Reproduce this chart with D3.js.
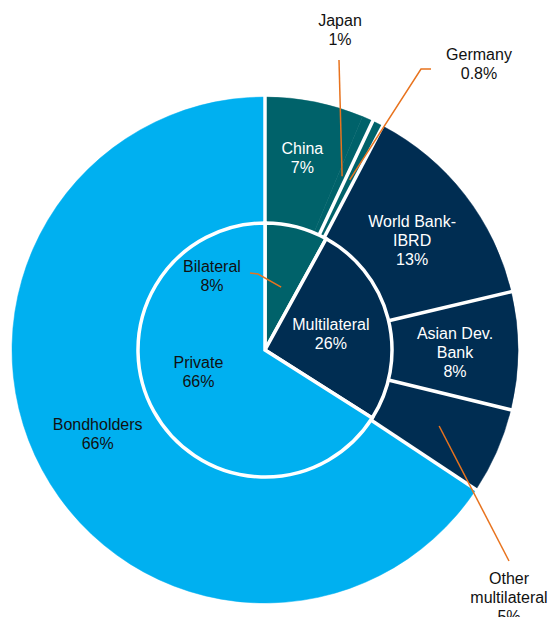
<!DOCTYPE html>
<html><head><meta charset="utf-8">
<script src="https://cdn.jsdelivr.net/npm/d3@7"></script>
<style>body{margin:0;background:#fff}svg{display:block}text{font-family:"Liberation Sans",Arial,sans-serif;font-size:16px}</style>
</head><body>
<svg id="c" width="549" height="617"></svg>
<script>
// Inner ring (creditor type)
const innerNames = ["Bilateral", "Multilateral", "Private"];
const innerValues = [8, 26, 66];
const innerLabels = ["8%", "26%", "66%"];
// Outer ring (creditor) - slice sizes, labels as printed
const outerNames = ["China", "Japan", "Germany", "World Bank-\nIBRD", "Asian Dev.\nBank", "Other\nmultilateral", "Bondholders"];
const outerValues = [6.3, 0.7, 0.7, 13.6, 7.5, 5.5, 65.7];
const outerLabels = ["7%", "1%", "0.8%", "13%", "8%", "5%", "66%"];
const outerGroup = ["Bilateral", "Bilateral", "Bilateral", "Multilateral", "Multilateral", "Multilateral", "Private"];

const colors = { Bilateral: "#00626A", Multilateral: "#002D52", Private: "#00B0F0" };
const textColors = { Bilateral: "#ffffff", Multilateral: "#ffffff", Private: "#111111" };

const cx = 265, cy = 350, rIn = 127, rOut = 253;
const svg = d3.select("#c");
const g = svg.append("g").attr("transform", `translate(${cx},${cy})`);
const pie = d3.pie().sort(null).value(d => d.v);

const outerData = pie(outerNames.map((n, i) => ({ n, v: outerValues[i], l: outerLabels[i], grp: outerGroup[i] })));
const innerData = pie(innerNames.map((n, i) => ({ n, v: innerValues[i], l: innerLabels[i], grp: n })));

const arcOut = d3.arc().innerRadius(rIn).outerRadius(rOut);
const arcIn = d3.arc().innerRadius(0).outerRadius(rIn);
const polar = (a, r) => [Math.sin(a) * r, -Math.cos(a) * r];

g.selectAll("path.o").data(outerData).join("path").attr("class", "o")
  .attr("d", arcOut).attr("fill", d => colors[d.data.grp])
  .attr("stroke", d => colors[d.data.grp]).attr("stroke-width", 0.5);
// white separators between outer slices (China and Japan share one block in the original)
outerData.forEach(d => {
  if (d.data.n === "Japan") return;
  g.append("line")
    .attr("x1", polar(d.startAngle, rIn)[0]).attr("y1", polar(d.startAngle, rIn)[1])
    .attr("x2", polar(d.startAngle, rOut + 2)[0]).attr("y2", polar(d.startAngle, rOut + 2)[1])
    .attr("stroke", "#fff").attr("stroke-width", 3.5);
});
g.selectAll("path.i").data(innerData).join("path").attr("class", "i")
  .attr("d", arcIn).attr("fill", d => colors[d.data.grp])
  .attr("stroke", "#fff").attr("stroke-width", 3.5);

const lh = 19;
function drawLabel(x, y, lines, color) {
  const t = g.append("text").attr("text-anchor", "middle").attr("fill", color);
  const n = lines.length;
  lines.forEach((s, k) => {
    t.append("tspan").attr("x", x).attr("y", y + (k - (n - 1) / 2) * lh + 6).text(s);
  });
}
const midR = (rIn + rOut) / 2;

// label layout adjustments (relative to centre)
const nudge = { "China": [0, -6], "World Bank-\nIBRD": [-3, 6], "Asian Dev.\nBank": [0, 1], "Bondholders": [0, -6] };
const external = {
  "Japan": { pos: [75, -321], path: [[74, -290]] },
  "Germany": { pos: [214, -287], path: [[166, -281], [156, -281]] },
  "Other\nmultilateral": { pos: [244, 247], path: [[244, 211]] }
};
const orange = "#E8731E";

outerData.forEach(d => {
  const a = (d.startAngle + d.endAngle) / 2;
  const lines = d.data.n.split("\n").concat([d.data.l]);
  const ext = external[d.data.n];
  if (ext) {
    const anchor = polar(a, 190);
    const pts = ext.path.concat([anchor]);
    g.append("path").attr("d", d3.line()(pts)).attr("fill", "none").attr("stroke", orange).attr("stroke-width", 1.5);
    drawLabel(ext.pos[0], ext.pos[1], lines, "#111");
  } else {
    const [x, y] = polar(a, midR);
    const nd = nudge[d.data.n] || [0, 0];
    drawLabel(x + nd[0], y + nd[1], lines, textColors[d.data.grp]);
  }
});

innerData.forEach(d => {
  const a = (d.startAngle + d.endAngle) / 2;
  const lines = [d.data.n, d.data.l];
  if (d.data.n === "Bilateral") {
    const anchor = polar(a, 65);
    g.append("path").attr("d", d3.line()([[-15, -77], [-7, -76], anchor])).attr("fill", "none").attr("stroke", orange).attr("stroke-width", 1.5);
    drawLabel(-53, -75, lines, "#111");
  } else if (d.data.n === "Multilateral") {
    const [x, y] = polar(a, 68);
    drawLabel(x, y, lines, "#fff");
  } else {
    const [x, y] = polar(a, 68);
    drawLabel(x - 7, y - 11, lines, "#111");
  }
});
</script>
</body></html>
